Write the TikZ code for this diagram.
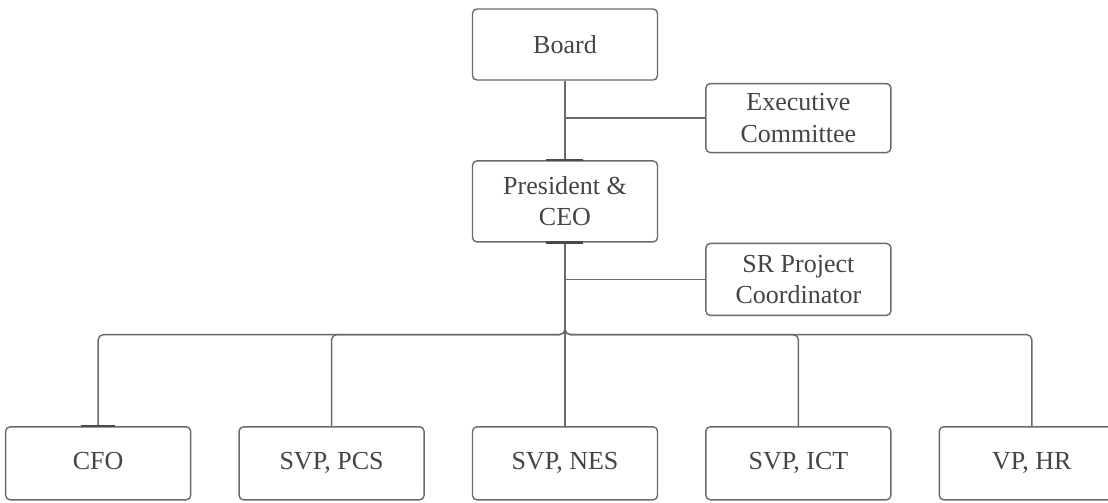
\documentclass[tikz,border=0pt]{standalone}
\usepackage{fontspec}
\setmainfont{Liberation Serif}
\usetikzlibrary{positioning,calc}
\definecolor{boxline}{HTML}{6A6A6A}
\definecolor{boxtext}{HTML}{444444}
\tikzstyle{block}=[draw=boxline, line width=0.8pt, rounded corners=2.5pt, text=boxtext, align=center, minimum width=3.7cm, minimum height=1.42cm, font=\fontsize{14.8}{17.8}\selectfont]
\tikzstyle{row}=[block, minimum height=1.46cm, text depth=0.25em]
\tikzstyle{conn}=[draw=boxline, line width=0.8pt, rounded corners=3pt]
\tikzstyle{stub}=[draw=boxline!70!black, line width=1.3pt]

\begin{document}
\begin{tikzpicture}[node distance=0.94cm]
\useasboundingbox (-11.30,0.89) rectangle ++(22.16,-10.04);
\node (board) [block] {Board};
\node (ceo) [block, below=1.59cm of board, minimum height=1.62cm] {President \&\\ CEO};
\coordinate (mid1) at ($(board.south)!0.47!(ceo.north)$);
\coordinate (m1) at (mid1 -| board.east);
\node (exec) [block, right=of m1, minimum height=1.38cm] {Executive\\ Committee};
\coordinate [below=1.84cm of ceo] (bus);
\coordinate (mid2) at ($(ceo.south)!0.4!(bus)$);
\coordinate (m2) at (mid2 -| ceo.east);
\node (sr) [block, right=of m2, minimum height=1.44cm] {SR Project\\ Coordinator};
% bottom row
\node (nes) [row, below=1.83cm of bus] {SVP, NES};
\node (pcs) [row, left=of nes] {SVP, PCS};
\node (cfo) [row, left=of pcs] {CFO};
\node (ict) [row, right=of nes] {SVP, ICT};
\node (hr) [row, right=of ict] {VP, HR};
% lines
\draw[conn] (board) -- (ceo);
\draw[conn] (mid1) -- (exec);
\draw[conn] (mid2) -- (sr);
\draw[conn] (ceo) -- (nes);
\foreach \n in {cfo,pcs,ict,hr}
  \draw[conn] (ceo.south) -- (bus) -| (\n.north);
\draw[stub] ($(ceo.north)+(-0.37,0)$) -- ($(ceo.north)+(0.37,0)$);
\draw[stub] ($(ceo.south)+(-0.37,0)$) -- ($(ceo.south)+(0.37,0)$);
\draw[stub] ($(cfo.north)+(-0.34,0)$) -- ($(cfo.north)+(0.34,0)$);
\end{tikzpicture}
\end{document}
